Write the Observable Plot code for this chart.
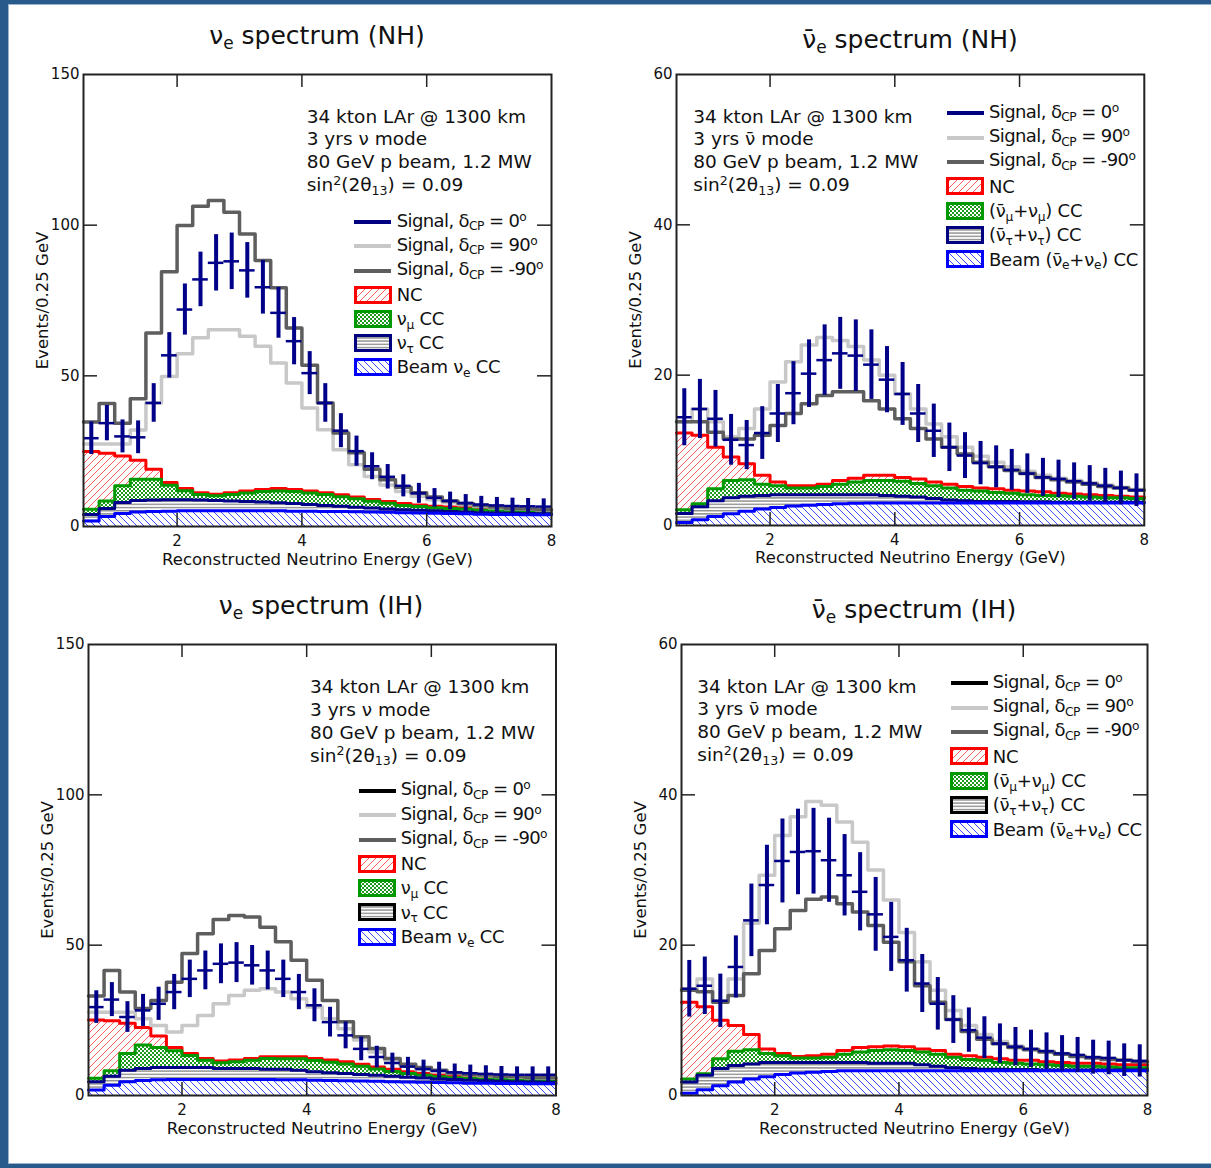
<!DOCTYPE html>
<html><head><meta charset="utf-8">
<script src="https://cdn.jsdelivr.net/npm/d3@7"></script>
<script src="https://cdn.jsdelivr.net/npm/@observablehq/plot@0.6"></script>
<style>
html,body{margin:0;padding:0;background:#fff;}
#page{position:relative;width:1211px;height:1168px;overflow:hidden;background:#fff;font-family:"DejaVu Sans",sans-serif;color:#111;}
.abs{position:absolute;white-space:nowrap;line-height:1;}
.title{font-size:25px;}
.note{font-size:18.5px;}
.leg{font-size:18px;letter-spacing:-0.25px;}
.sig{letter-spacing:-0.6px;}
sub,sup{font-size:0.68em;line-height:0;position:relative;vertical-align:baseline;}
sub{top:0.3em;} sup{top:-0.5em;}
</style></head><body><div id="page"></div>
<svg width="0" height="0" style="position:absolute;left:0;top:0">
<defs>
<pattern id="pNC" patternUnits="userSpaceOnUse" width="7" height="7">
<rect width="7" height="7" fill="#fff"/>
<path d="M-1,1 L1,-1 M0,7 L7,0 M6,8 L8,6" stroke="#ff5c5c" stroke-width="1"/>
</pattern>
<pattern id="pBeam" patternUnits="userSpaceOnUse" width="7" height="7">
<rect width="7" height="7" fill="#fff"/>
<path d="M-1,6 L1,8 M0,0 L7,7 M6,-1 L8,1" stroke="#3a4dff" stroke-width="1"/>
</pattern>
<pattern id="pNumu" patternUnits="userSpaceOnUse" width="4" height="4">
<rect width="4" height="4" fill="#fff"/>
<rect x="0" y="0" width="2" height="2" fill="#1d9a1d"/>
<rect x="2" y="2" width="2" height="2" fill="#1d9a1d"/>
</pattern>
<pattern id="pTau" patternUnits="userSpaceOnUse" width="4" height="3.2">
<rect width="4" height="3.2" fill="#fff"/>
<rect x="0" y="0" width="4" height="1.4" fill="#8c8c8c"/>
</pattern>
</defs></svg>
<script>
// ---------------- data ----------------
const BIN_EDGES = [0.5,0.75,1,1.25,1.5,1.75,2,2.25,2.5,2.75,3,3.25,3.5,3.75,4,4.25,4.5,4.75,5,5.25,5.5,5.75,6,6.25,6.5,6.75,7,7.25,7.5,7.75,8];
const X_TICK_LABELS = [2, 4, 6, 8];
const NU_Y_TICKS = [0, 50, 100, 150];
const ANU_Y_TICKS = [0, 20, 40, 60];
const X_LABEL = "Reconstructed Neutrino Energy (GeV)";
const Y_LABEL = "Events/0.25 GeV";

// nu_e spectrum (NH)
const NH_NU_DATA    = [29.3,34.3,29.9,29.6,41.0,56.8,72.0,82.0,87.5,88.0,85.0,79.4,70.9,61.5,50.9,41.0,31.8,25.0,20.0,16.5,13.5,11.0,9.5,8.5,7.8,7.3,7.0,6.8,6.7,6.6];
const NH_NU_SIG_P90 = [27.4,27.4,27.4,32.0,41.0,49.8,57.3,62.6,65.3,65.3,63.1,59.8,54.3,47.6,39.3,32.1,25.5,20.5,16.6,13.8,11.6,10.0,8.9,7.9,7.2,6.6,6.2,5.9,5.7,5.5];
const NH_NU_SIG_M90 = [34.7,40.8,34.3,42.4,64.2,84.5,99.9,106.3,108.2,104.3,97.1,88.3,79.2,65.9,53.5,41.0,31.0,24.5,19.0,15.5,13.0,11.2,9.8,8.5,7.6,7.0,6.5,6.0,5.8,5.6];
const NH_NU_BEAM = [1.8,3.3,4.3,4.8,5.0,5.1,5.2,5.2,5.2,5.2,5.2,5.2,5.2,5.1,5.1,5.0,5.0,4.9,4.8,4.7,4.6,4.5,4.4,4.3,4.2,4.1,4.0,4.0,3.9,3.9];
const NH_NU_TAU  = [2.2,2.7,3.7,3.8,3.8,3.8,3.7,3.6,3.4,3.3,3.1,2.9,2.7,2.5,2.2,2.0,1.7,1.5,1.3,1.1,1.0,0.9,0.8,0.7,0.6,0.5,0.5,0.4,0.4,0.3];
const NH_NU_NUMU = [1.7,2.5,5.5,7.1,6.9,4.8,3.0,1.8,1.6,2.1,2.8,3.5,3.9,4.0,3.8,3.6,3.2,2.8,2.3,1.9,1.4,1.2,1.0,1.0,1.0,0.9,0.9,0.9,0.9,0.9];
const NH_NU_NC   = [19.2,15.8,9.9,6.3,3.3,0.9,0.7,0.6,0.5,0.6,0.7,0.7,0.8,0.7,0.7,0.6,0.6,0.6,0.6,0.6,0.6,0.5,0.5,0.5,0.5,0.5,0.5,0.5,0.5,0.5];

// anti-nu_e spectrum (NH)
const NH_ANU_DATA    = [14.4,15.5,14.2,11.4,10.7,12.3,14.9,17.6,20.2,22.0,22.9,22.6,21.4,19.4,17.5,14.9,12.6,10.4,9.3,8.3,7.8,7.4,6.9,6.4,6.2,5.9,5.6,5.3,5.0,4.7];
const NH_ANU_SIG_P90 = [13.8,15.5,13.8,11.8,12.9,15.5,19.1,21.8,24.0,25.0,24.6,23.8,22.0,20.0,17.5,15.5,13.5,11.8,10.4,9.2,8.4,7.8,7.2,6.7,6.3,6.0,5.7,5.4,5.1,4.8];
const NH_ANU_SIG_M90 = [13.8,13.8,12.4,11.5,11.5,12.0,13.3,14.9,16.2,17.3,17.8,17.8,16.6,15.5,14.2,12.9,11.5,10.4,9.5,8.4,7.8,7.3,6.9,6.4,6.1,5.8,5.5,5.2,5.0,4.7];
const NH_ANU_BEAM = [0.4,0.75,1.2,1.55,1.9,2.2,2.4,2.6,2.7,2.8,2.9,2.95,3.0,3.0,3.0,3.0,3.0,3.0,3.0,3.0,3.0,3.0,3.0,3.0,3.0,3.0,3.0,3.0,3.0,3.0];
const NH_ANU_TAU  = [1.2,1.75,2.1,2.15,2.0,1.8,1.7,1.5,1.4,1.3,1.2,1.15,1.1,1.0,0.9,0.8,0.6,0.4,0.3,0.2,0.2,0.2,0.15,0.15,0.1,0.1,0.1,0.1,0.1,0.1];
const NH_ANU_NUMU = [0.5,0.4,1.6,2.3,2.2,1.5,1.2,0.9,0.9,1.1,1.4,1.7,1.9,2.0,2.0,1.8,1.7,1.6,1.4,1.4,1.2,1.1,0.95,0.85,0.85,0.8,0.7,0.6,0.6,0.5];
const NH_ANU_NC   = [10.2,9.1,5.5,3.1,2.1,1.2,0.5,0.3,0.3,0.3,0.5,0.5,0.7,0.7,0.5,0.6,0.5,0.5,0.5,0.4,0.5,0.4,0.5,0.5,0.35,0.3,0.3,0.3,0.2,0.2];

// nu_e spectrum (IH)
const IH_NU_DATA    = [29.4,31.9,26.1,28.3,30.5,34.4,38.8,41.6,43.8,44.2,43.3,41.6,38.8,34.4,30.0,24.4,20.0,15.5,12.8,10.8,9.6,8.8,8.2,7.7,7.4,7.2,7.0,6.9,6.9,6.9];
const IH_NU_SIG_P90 = [27.7,27.7,27.7,25.5,23.3,21.1,23.3,26.6,30.5,33.3,35.0,35.5,34.4,32.2,29.4,25.5,22.2,18.5,14.5,11.8,9.8,8.6,7.9,7.3,6.9,6.6,6.3,6.1,5.9,5.8];
const IH_NU_SIG_M90 = [33.1,41.6,34.4,28.9,31.6,37.7,47.2,53.8,58.5,59.9,59.4,56.0,51.1,45.0,38.3,31.6,24.5,19.5,15.6,12.3,10.4,9.3,8.4,7.5,7.1,6.8,6.4,6.2,6.0,5.9];
const IH_NU_BEAM = [1.8,3.4,4.6,5.0,5.2,5.3,5.3,5.3,5.3,5.3,5.3,5.3,5.2,5.2,5.1,5.0,4.9,4.8,4.7,4.6,4.5,4.4,4.3,4.2,4.1,4.1,4.0,4.0,3.9,3.9];
const IH_NU_TAU  = [2.8,3.0,3.8,4.0,4.1,4.0,4.0,4.0,3.7,3.7,3.7,3.4,3.5,3.2,2.8,2.6,2.4,2.2,2.0,1.8,1.6,1.4,1.2,1.1,1.0,0.8,0.7,0.6,0.6,0.5];
const IH_NU_NUMU = [1.1,1.8,5.6,7.8,6.7,5.6,4.0,2.4,1.9,2.2,2.7,3.6,3.5,3.8,3.7,3.5,3.2,2.7,2.1,1.6,1.2,0.9,0.7,0.6,0.6,0.6,0.6,0.6,0.6,0.6];
const IH_NU_NC   = [19.4,16.7,10.0,5.8,3.8,1.1,0.7,0.6,0.6,0.6,0.6,0.6,0.7,0.7,0.7,0.7,0.7,0.7,0.7,0.7,0.6,0.6,0.6,0.5,0.5,0.5,0.5,0.5,0.4,0.4];

// anti-nu_e spectrum (IH)
const IH_ANU_DATA    = [14.2,14.6,12.6,17.1,23.3,28.0,31.2,32.4,32.5,31.3,29.3,27.1,24.1,21.1,18.0,14.9,12.2,10.1,8.7,7.7,6.9,6.5,6.2,5.9,5.6,5.4,5.1,5.0,4.7,4.6];
const IH_ANU_SIG_P90 = [14.2,15.5,12.6,15.5,22.9,29.3,34.6,37.1,39.1,38.6,36.4,33.7,30.0,26.0,21.7,17.8,14.0,11.3,9.3,8.1,7.2,6.6,6.2,5.9,5.6,5.3,5.1,4.9,4.7,4.6];
const IH_ANU_SIG_M90 = [14.0,13.8,12.4,13.3,16.2,19.3,22.2,24.6,26.1,26.4,25.5,24.4,22.6,20.4,17.8,14.6,12.4,10.1,8.5,7.5,6.9,6.4,6.1,5.8,5.5,5.2,5.0,4.8,4.7,4.5];
const IH_ANU_BEAM = [0.3,0.75,1.3,1.8,2.2,2.5,2.8,3.0,3.1,3.2,3.3,3.3,3.3,3.3,3.3,3.3,3.3,3.3,3.3,3.3,3.3,3.3,3.3,3.3,3.3,3.3,3.3,3.3,3.3,3.3];
const IH_ANU_TAU  = [1.5,1.95,2.3,2.2,2.0,1.9,1.6,1.4,1.3,1.2,1.1,1.1,1.0,1.0,1.0,0.8,0.6,0.4,0.3,0.2,0.2,0.15,0.15,0.1,0.1,0.1,0.1,0.1,0.1,0.1];
const IH_ANU_NUMU = [0.4,0.2,1.3,1.9,1.9,1.2,0.9,0.6,0.6,0.7,1.1,1.4,1.7,1.8,1.7,1.7,1.6,1.4,1.2,1.2,0.9,0.85,0.75,0.7,0.6,0.5,0.5,0.4,0.3,0.3];
const IH_ANU_NC   = [10.2,8.9,5.1,3.4,2.0,0.6,0.3,0.2,0.3,0.4,0.5,0.6,0.5,0.5,0.5,0.4,0.5,0.4,0.5,0.4,0.5,0.4,0.5,0.4,0.4,0.4,0.4,0.4,0.4,0.4];

// ---------------- text ----------------
const NUBAR = "ν\u0304";
const NOTE_NU  = ["34 kton LAr @ 1300 km", "3 yrs ν mode", "80 GeV p beam, 1.2 MW", "sin<sup>2</sup>(2θ<sub>13</sub>) = 0.09"];
const NOTE_ANU = ["34 kton LAr @ 1300 km", `3 yrs ${NUBAR} mode`, "80 GeV p beam, 1.2 MW", "sin<sup>2</sup>(2θ<sub>13</sub>) = 0.09"];
const LEG_SIGNAL = ["Signal, δ<sub>CP</sub> = 0<sup>o</sup>", "Signal, δ<sub>CP</sub> = 90<sup>o</sup>", "Signal, δ<sub>CP</sub> = -90<sup>o</sup>"];
const LEG_BG_NU  = ["NC", "ν<sub>μ</sub> CC", "ν<sub>τ</sub> CC", "Beam ν<sub>e</sub> CC"];
const LEG_BG_ANU = ["NC", `(${NUBAR}<sub>μ</sub>+ν<sub>μ</sub>) CC`, `(${NUBAR}<sub>τ</sub>+ν<sub>τ</sub>) CC`, `Beam (${NUBAR}<sub>e</sub>+ν<sub>e</sub>) CC`];

// ---------------- layout ----------------
const PANELS = [
  {title: "ν<sub>e</sub> spectrum (NH)", yMax: 150, yTicks: NU_Y_TICKS,
   data: NH_NU_DATA, p90: NH_NU_SIG_P90, m90: NH_NU_SIG_M90,
   beam: NH_NU_BEAM, tau: NH_NU_TAU, numu: NH_NU_NUMU, nc: NH_NU_NC,
   note: NOTE_NU, bg: LEG_BG_NU, sig0: "#000080", tauBox: "#000080",
   f: {x0: 83, x1: 551, y0: 73.5, y1: 525.5}, t: {cx: 317, base: 44},
   n: {x: 306.7, base: 123.3, step: 22.8}, l: {sx: 353.5, tx: 396.7, c0: 222.3, step: 24.1}},
  {title: `${NUBAR}<sub>e</sub> spectrum (NH)`, yMax: 60, yTicks: ANU_Y_TICKS,
   data: NH_ANU_DATA, p90: NH_ANU_SIG_P90, m90: NH_ANU_SIG_M90,
   beam: NH_ANU_BEAM, tau: NH_ANU_TAU, numu: NH_ANU_NUMU, nc: NH_ANU_NC,
   note: NOTE_ANU, bg: LEG_BG_ANU, sig0: "#000080", tauBox: "#000080",
   f: {x0: 675.7, x1: 1143.5, y0: 74, y1: 525}, t: {cx: 910, base: 48},
   n: {x: 693.3, base: 123.3, step: 22.8}, l: {sx: 946, tx: 989, c0: 113.3, step: 24.33}},
  {title: "ν<sub>e</sub> spectrum (IH)", yMax: 150, yTicks: NU_Y_TICKS,
   data: IH_NU_DATA, p90: IH_NU_SIG_P90, m90: IH_NU_SIG_M90,
   beam: IH_NU_BEAM, tau: IH_NU_TAU, numu: IH_NU_NUMU, nc: IH_NU_NC,
   note: NOTE_NU, bg: LEG_BG_NU, sig0: "#000000", tauBox: "#000000",
   f: {x0: 87.5, x1: 555, y0: 644, y1: 1095}, t: {cx: 321, base: 614},
   n: {x: 310, base: 693.3, step: 23}, l: {sx: 358.3, tx: 400.7, c0: 791, step: 24.28}},
  {title: `${NUBAR}<sub>e</sub> spectrum (IH)`, yMax: 60, yTicks: ANU_Y_TICKS,
   data: IH_ANU_DATA, p90: IH_ANU_SIG_P90, m90: IH_ANU_SIG_M90,
   beam: IH_ANU_BEAM, tau: IH_ANU_TAU, numu: IH_ANU_NUMU, nc: IH_ANU_NC,
   note: NOTE_ANU, bg: LEG_BG_ANU, sig0: "#000000", tauBox: "#000000",
   f: {x0: 680.7, x1: 1146.7, y0: 644, y1: 1095}, t: {cx: 914, base: 618},
   n: {x: 697.3, base: 693.3, step: 22.8}, l: {sx: 950, tx: 992.7, c0: 683.3, step: 24.33}}
];

const page = document.getElementById("page");
function box(left, top, w, h, bg) {
  const d = document.createElement("div");
  d.style.cssText = `position:absolute;left:${left}px;top:${top}px;width:${w}px;height:${h}px;background:${bg}`;
  page.appendChild(d);
}
function text(html, left, base, fs, cls, center) {
  const d = document.createElement("div");
  d.className = "abs " + cls;
  d.style.left = left + "px";
  d.style.top = (base - 0.846 * fs) + "px";
  if (center) d.style.transform = "translateX(-50%)";
  d.innerHTML = html;
  page.appendChild(d);
}

const C = {nc: "#ff0000", numu: "#009a00", tau: "#00008a", beam: "#0000ff", p90: "#c8c8c8", m90: "#5e5e5e", data: "#000088"};
const mL = 60, mR = 12, mT = 12, mB = 50;
const steps = vals => BIN_EDGES.map((e, i) => ({x: e, y: vals[Math.min(i, vals.length - 1)]}));
const add = (a, b) => a.map((v, i) => v + b[i]);

for (const p of PANELS) {
  const f = p.f;
  const innerW = f.x1 - f.x0, innerH = f.y1 - f.y0;
  const beamTop = p.beam, tauTop = add(beamTop, p.tau), numuTop = add(tauTop, p.numu), ncTop = add(numuTop, p.nc);
  const layers = [
    {top: ncTop, fill: "url(#pNC)", stroke: C.nc},
    {top: numuTop, fill: "url(#pNumu)", stroke: C.numu},
    {top: tauTop, fill: "url(#pTau)", stroke: C.tau},
    {top: beamTop, fill: "url(#pBeam)", stroke: C.beam}
  ];
  const bins = p.data.map((v, i) => ({lo: BIN_EDGES[i], hi: BIN_EDGES[i + 1], mid: (BIN_EDGES[i] + BIN_EDGES[i + 1]) / 2, v, err: Math.sqrt(v)}));
  const innerXTicks = X_TICK_LABELS.slice(0, -1);
  const innerYTicks = p.yTicks.slice(1, -1);

  const svg = Plot.plot({
    width: innerW + mL + mR, height: innerH + mT + mB,
    marginLeft: mL, marginRight: mR, marginTop: mT, marginBottom: mB,
    x: {domain: [0.5, 8]},
    y: {domain: [0, p.yMax]},
    style: {fontFamily: "DejaVu Sans, sans-serif", fontSize: "15px", color: "#111", background: "transparent", overflow: "visible"},
    marks: [
      ...layers.flatMap(l => [
        Plot.areaY(steps(l.top), {x: "x", y1: 0, y2: "y", curve: "step-after", fill: l.fill}),
        Plot.line(steps(l.top), {x: "x", y: "y", curve: "step-after", stroke: l.stroke, strokeWidth: 3})
      ]),
      Plot.line(steps(p.p90), {x: "x", y: "y", curve: "step-after", stroke: C.p90, strokeWidth: 3.5}),
      Plot.line(steps(p.m90), {x: "x", y: "y", curve: "step-after", stroke: C.m90, strokeWidth: 3.5}),
      Plot.ruleX(bins, {x: "mid", y1: d => Math.max(0, d.v - d.err), y2: d => d.v + d.err, stroke: C.data, strokeWidth: 4}),
      Plot.ruleY(bins, {y: "v", x1: "lo", x2: "hi", stroke: C.data, strokeWidth: 2.5}),
      Plot.frame({stroke: "#222", strokeWidth: 2}),
      Plot.tickX(innerXTicks, {x: d => d, insetTop: innerH - 13, stroke: "#222", strokeWidth: 1.5}),
      Plot.tickX(innerXTicks, {x: d => d, insetBottom: innerH - 13, stroke: "#222", strokeWidth: 1.5}),
      Plot.tickY(innerYTicks, {y: d => d, insetRight: innerW - 14, stroke: "#222", strokeWidth: 1.5}),
      Plot.tickY(innerYTicks, {y: d => d, insetLeft: innerW - 14, stroke: "#222", strokeWidth: 1.5}),
      Plot.axisX({ticks: X_TICK_LABELS, tickSize: 0, tickPadding: 9, label: null}),
      Plot.axisY({ticks: p.yTicks, tickSize: 0, tickPadding: 4, label: null}),
      Plot.axisX({ticks: [], tickSize: 0, label: X_LABEL, labelAnchor: "center", labelOffset: 38, labelArrow: "none", fontSize: 16.5}),
      Plot.axisY({ticks: [], tickSize: 0, label: Y_LABEL, labelAnchor: "center", labelOffset: 47, labelArrow: "none", fontSize: 16.5})
    ]
  });
  const wrap = document.createElement("div");
  wrap.style.cssText = `position:absolute;left:${f.x0 - mL}px;top:${f.y0 - mT}px;`;
  wrap.appendChild(svg);
  page.appendChild(wrap);
}

// texts & legends on top
for (const p of PANELS) {
  text(p.title, p.t.cx, p.t.base, 25, "title", true);
  p.note.forEach((s, i) => text(s, p.n.x, p.n.base + i * p.n.step, 18.5, "note", false));
  const lineColors = [p.sig0, C.p90, C.m90];
  const boxes = [["pNC", C.nc], ["pNumu", C.numu], ["pTau", p.tauBox], ["pBeam", C.beam]];
  const labels = [...LEG_SIGNAL, ...p.bg];
  labels.forEach((lab, i) => {
    const c = p.l.c0 + i * p.l.step;
    const sw = document.createElement("div");
    sw.style.cssText = "position:absolute;";
    if (i < 3) {
      sw.style.left = (p.l.sx + 0.5) + "px"; sw.style.top = (c - 3) + "px";
      sw.innerHTML = `<svg width="37" height="6" style="display:block"><line x1="0" y1="3" x2="37" y2="3" stroke="${lineColors[i]}" stroke-width="4"/></svg>`;
      page.appendChild(sw);
      text(lab, p.l.tx, c + 4.6, 18, "leg sig", false);
    } else {
      const [pid, col] = boxes[i - 3];
      sw.style.left = p.l.sx + "px"; sw.style.top = (c - 9) + "px";
      sw.innerHTML = `<svg width="38" height="18" style="display:block"><rect x="1.5" y="1.5" width="35" height="15" fill="url(#${pid})" stroke="${col}" stroke-width="3"/></svg>`;
      page.appendChild(sw);
      text(lab, p.l.tx, c + 6.5, 18, "leg", false);
    }
  });
}

// slide frame
box(0, 0, 1211, 4, "#285a8c");
box(0, 4, 1211, 1, "#9db4cf");
box(0, 0, 8, 1168, "#285a8c");
box(8, 4, 1, 1159, "#9db4cf");
box(0, 1164, 1211, 4, "#285a8c");
box(8, 1163, 1203, 1, "#9db4cf");
</script></body></html>
